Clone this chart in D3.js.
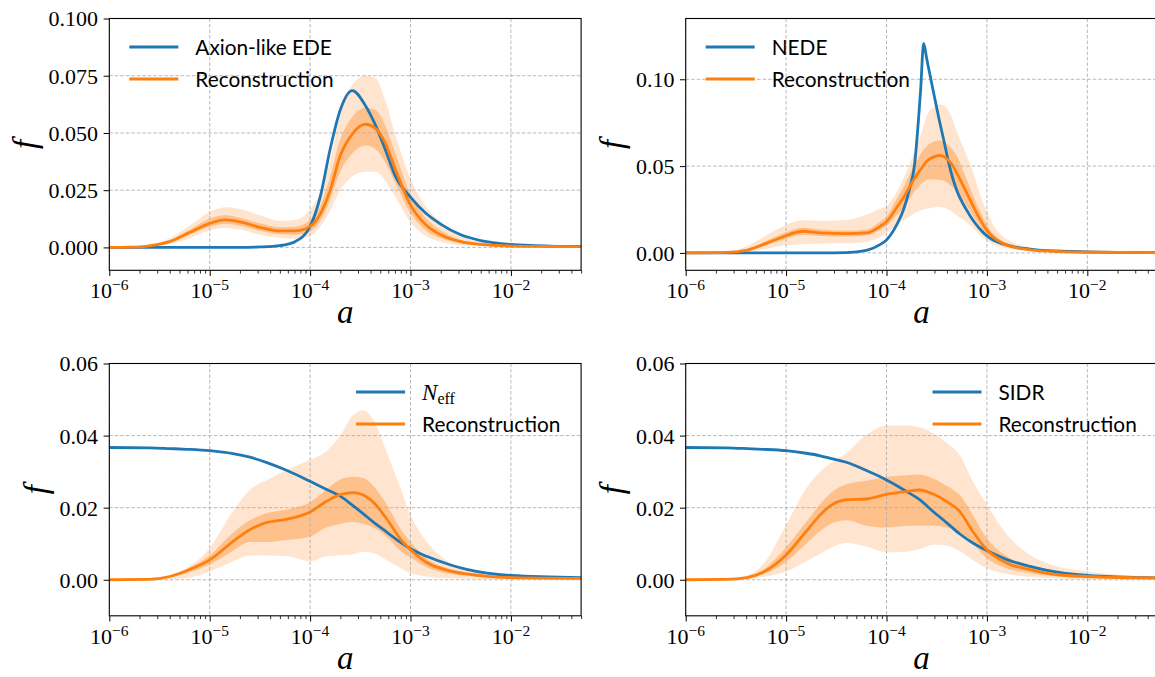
<!DOCTYPE html>
<html>
<head>
<meta charset="utf-8">
<script src="https://cdn.jsdelivr.net/npm/d3@7"></script>
<style>
  body { margin: 0; background: #fff; }
  svg { display: block; }
</style>
</head>
<body>
<div id="chart"></div>
<script>
// ---- data (log10 a grid per panel, then f values) ----

// Axion-like EDE
const edeLogA   = [-6, -5.8, -5.6, -5.4, -5.2, -5.0, -4.85, -4.7, -4.5, -4.3, -4.15, -4.0, -3.9, -3.8, -3.7, -3.58, -3.45, -3.35, -3.25, -3.15, -3.0, -2.85, -2.7, -2.5, -2.3, -2.0, -1.6, -1.3];
const edeModel  = [0, 0, 0, 0, 0, 0, 0, 0, 0.0002, 0.0008, 0.0025, 0.0092, 0.022, 0.043, 0.060, 0.0685, 0.062, 0.0535, 0.0426, 0.031, 0.022, 0.015, 0.0102, 0.0055, 0.003, 0.0013, 0.0006, 0.0004];
const edeMedian = [0, 0.0001, 0.0007, 0.0025, 0.0065, 0.0105, 0.012, 0.0112, 0.0088, 0.0072, 0.0072, 0.0092, 0.0145, 0.025, 0.040, 0.0495, 0.0538, 0.052, 0.0455, 0.034, 0.0185, 0.010, 0.0055, 0.0025, 0.0013, 0.0006, 0.0004, 0.0003];
const edeLo95   = [0, 0, 0.0003, 0.0015, 0.004, 0.0075, 0.0085, 0.0078, 0.0055, 0.0042, 0.0038, 0.005, 0.009, 0.016, 0.025, 0.031, 0.033, 0.033, 0.029, 0.022, 0.011, 0.005, 0.0025, 0.001, 0.0005, 0.0002, 0.0001, 0.0001];
const edeHi95   = [0, 0.0003, 0.0012, 0.004, 0.0095, 0.0155, 0.0175, 0.0168, 0.014, 0.0115, 0.012, 0.0165, 0.024, 0.038, 0.058, 0.071, 0.075, 0.074, 0.064, 0.049, 0.03, 0.018, 0.011, 0.005, 0.0025, 0.001, 0.0006, 0.0005];
const edeLo68   = [0, 0, 0.0005, 0.002, 0.0055, 0.009, 0.0103, 0.0095, 0.0073, 0.0058, 0.0056, 0.007, 0.0115, 0.021, 0.033, 0.041, 0.0445, 0.043, 0.037, 0.028, 0.015, 0.0075, 0.004, 0.0018, 0.0009, 0.0004, 0.0003, 0.0002];
const edeHi68   = [0, 0.0002, 0.0009, 0.003, 0.0077, 0.0125, 0.014, 0.013, 0.0105, 0.0088, 0.009, 0.012, 0.018, 0.031, 0.047, 0.057, 0.061, 0.060, 0.053, 0.041, 0.023, 0.013, 0.0075, 0.0033, 0.0017, 0.0008, 0.0005, 0.0004];

// NEDE
const nedeLogA   = [-6, -5.6, -5.4, -5.23, -5.06, -4.83, -4.66, -4.4, -4.2, -4.065, -4.0, -3.9, -3.83, -3.77, -3.72, -3.68, -3.66, -3.63, -3.6, -3.53, -3.475, -3.43, -3.385, -3.335, -3.3, -3.2, -3.135, -3.07, -3.0, -2.94, -2.84, -2.74, -2.57, -2.4, -2.0, -1.3];
const nedeModel  = [0, 0, 0, 0, 0, 0, 0, 0.0002, 0.0015, 0.0048, 0.0075, 0.016, 0.025, 0.037, 0.051, 0.078, 0.094, 0.1207, 0.112, 0.092, 0.0766, 0.065, 0.053, 0.042, 0.036, 0.0245, 0.0185, 0.0138, 0.0098, 0.0075, 0.0052, 0.0037, 0.0022, 0.0013, 0.0006, 0.0002];
const nedeMedian = [0, 0.0003, 0.0015, 0.0048, 0.0086, 0.0125, 0.0115, 0.0111, 0.0115, 0.0153, 0.018, 0.026, 0.032, 0.038, 0.043, 0.0465, 0.048, 0.0505, 0.0527, 0.0553, 0.0561, 0.0555, 0.0535, 0.0498, 0.046, 0.0345, 0.0268, 0.0195, 0.013, 0.0092, 0.0055, 0.0034, 0.0018, 0.001, 0.0004, 0.0002];
const nedeLo95   = [0, 0, 0.0005, 0.002, 0.004, 0.0052, 0.0055, 0.0057, 0.0065, 0.009, 0.0115, 0.016, 0.019, 0.021, 0.023, 0.024, 0.0245, 0.025, 0.0255, 0.0262, 0.0264, 0.026, 0.025, 0.023, 0.0215, 0.0175, 0.014, 0.0105, 0.0072, 0.005, 0.003, 0.002, 0.0011, 0.0006, 0.0002, 0.0001];
const nedeHi95   = [0, 0.0008, 0.0035, 0.009, 0.0145, 0.0188, 0.0185, 0.019, 0.022, 0.0255, 0.027, 0.035, 0.043, 0.051, 0.059, 0.065, 0.068, 0.073, 0.0785, 0.084, 0.0856, 0.085, 0.082, 0.076, 0.070, 0.056, 0.046, 0.034, 0.024, 0.0165, 0.0095, 0.006, 0.003, 0.0016, 0.0006, 0.0003];
const nedeLo68   = [0, 0.0002, 0.001, 0.0037, 0.007, 0.0105, 0.0098, 0.0095, 0.010, 0.0132, 0.0155, 0.0215, 0.026, 0.031, 0.0355, 0.038, 0.0395, 0.041, 0.042, 0.0425, 0.042, 0.0415, 0.040, 0.0375, 0.035, 0.027, 0.021, 0.0155, 0.0105, 0.0072, 0.0042, 0.0027, 0.0015, 0.0008, 0.0003, 0.0001];
const nedeHi68   = [0, 0.0005, 0.002, 0.006, 0.0105, 0.0145, 0.0135, 0.0128, 0.0135, 0.018, 0.021, 0.031, 0.038, 0.045, 0.051, 0.055, 0.057, 0.0595, 0.0615, 0.064, 0.0648, 0.064, 0.062, 0.059, 0.056, 0.042, 0.033, 0.024, 0.0162, 0.0112, 0.0068, 0.0044, 0.0025, 0.0014, 0.0005, 0.0002];

// N_eff
const neffLogA   = [-6, -5.6, -5.4, -5.23, -5.0, -4.77, -4.6, -4.43, -4.23, -4.0, -3.84, -3.7, -3.57, -3.47, -3.37, -3.24, -3.1, -3.0, -2.84, -2.6, -2.44, -2.0, -1.3];
const neffModel  = [0.0367, 0.0366, 0.0364, 0.0362, 0.0358, 0.035, 0.034, 0.0325, 0.0303, 0.0273, 0.0251, 0.0232, 0.0205, 0.0183, 0.016, 0.0133, 0.0104, 0.0086, 0.0065, 0.0041, 0.0029, 0.0012, 0.0006];
const neffMedian = [0, 0.0001, 0.0009, 0.0025, 0.0055, 0.0106, 0.0139, 0.0159, 0.0168, 0.0188, 0.0217, 0.0236, 0.0242, 0.0235, 0.0215, 0.017, 0.0113, 0.0083, 0.0048, 0.0024, 0.0016, 0.0006, 0.0004];
const neffLo95   = [0, 0, 0.0002, 0.0005, 0.0023, 0.0051, 0.0067, 0.0067, 0.0065, 0.0051, 0.0065, 0.0068, 0.0071, 0.0078, 0.0074, 0.0055, 0.0032, 0.0018, 0.0009, 0.0004, 0.0003, 0.0002, 0.0001];
const neffHi95   = [0, 0.0003, 0.0012, 0.0032, 0.0088, 0.019, 0.025, 0.0277, 0.0305, 0.0333, 0.0356, 0.040, 0.0457, 0.047, 0.0443, 0.0356, 0.0254, 0.018, 0.0106, 0.0046, 0.0028, 0.001, 0.0007];
const neffLo68   = [0, 0.0001, 0.0007, 0.0018, 0.0042, 0.008, 0.0105, 0.0105, 0.011, 0.012, 0.0145, 0.0155, 0.016, 0.0155, 0.0145, 0.012, 0.008, 0.0062, 0.0035, 0.0016, 0.0011, 0.0004, 0.0003];
const neffHi68   = [0, 0.0002, 0.001, 0.003, 0.0068, 0.013, 0.0165, 0.0185, 0.0195, 0.0215, 0.025, 0.0278, 0.0286, 0.0282, 0.026, 0.021, 0.0142, 0.0105, 0.006, 0.003, 0.002, 0.0008, 0.0005];

// SIDR
const sidrLogA   = [-6, -5.6, -5.39, -5.23, -5.0, -4.8, -4.66, -4.56, -4.4, -4.2, -4.0, -3.8, -3.67, -3.53, -3.4, -3.27, -3.14, -3.0, -2.8, -2.57, -2.4, -2.0, -1.3];
const sidrModel  = [0.0367, 0.0366, 0.0364, 0.0362, 0.0358, 0.0351, 0.0344, 0.0337, 0.0326, 0.0303, 0.0277, 0.0245, 0.0222, 0.0188, 0.0158, 0.0127, 0.0102, 0.0081, 0.0056, 0.0037, 0.0026, 0.0012, 0.0005];
const sidrMedian = [0, 0.0001, 0.0006, 0.0021, 0.0069, 0.0134, 0.018, 0.0205, 0.0222, 0.0224, 0.0237, 0.0245, 0.0249, 0.0237, 0.0217, 0.0189, 0.0134, 0.0083, 0.0046, 0.0028, 0.0018, 0.0009, 0.0005];
const sidrLo95   = [0, 0, 0.0002, 0.0008, 0.0023, 0.0051, 0.0072, 0.0088, 0.0102, 0.0092, 0.0076, 0.0078, 0.0085, 0.0097, 0.0095, 0.0079, 0.0055, 0.0032, 0.0016, 0.0008, 0.0005, 0.0002, 0.0001];
const sidrHi95   = [0, 0.0002, 0.0012, 0.0042, 0.0152, 0.0254, 0.030, 0.0323, 0.0351, 0.0402, 0.0428, 0.0428, 0.0423, 0.0406, 0.038, 0.0345, 0.0273, 0.0208, 0.0125, 0.0069, 0.0046, 0.0023, 0.0009];
const sidrLo68   = [0, 0.0001, 0.0004, 0.0015, 0.005, 0.010, 0.0135, 0.0155, 0.0165, 0.015, 0.0145, 0.015, 0.015, 0.015, 0.0145, 0.013, 0.010, 0.006, 0.0032, 0.0018, 0.0012, 0.0005, 0.0003];
const sidrHi68   = [0, 0.0001, 0.0009, 0.0028, 0.009, 0.016, 0.021, 0.024, 0.0265, 0.0275, 0.0285, 0.029, 0.0292, 0.028, 0.026, 0.0235, 0.018, 0.0115, 0.0065, 0.0038, 0.0026, 0.0012, 0.0006];

// axis settings
const xDomain = [1e-6, 5e-2];
const xMajor = [1e-6, 1e-5, 1e-4, 1e-3, 1e-2];
const xMajorExp = ["6", "5", "4", "3", "2"];
const yTicksEde = [0, 0.025, 0.05, 0.075, 0.1];
const yTicksNede = [0, 0.05, 0.1];
const yTicksRad = [0, 0.02, 0.04, 0.06];

const blue = "#1f77b4", orange = "#ff7f0e";
const serif = "'Liberation Serif', 'DejaVu Serif', serif";
const sans = "Lato, 'DejaVu Sans', sans-serif";

const W = 1155, H = 677;
const pw = 471.8;

const svg = d3.select("#chart").append("svg")
    .attr("width", W)
    .attr("height", H);

const panels = [
  {left: 109.3, top: 18.5, ph: 251.8, yDomain: [-0.01, 0.1], yTicks: yTicksEde, fmt: ".3f",
   label: "Axion-like EDE", legendRight: false,
   la: edeLogA, model: edeModel, med: edeMedian, lo95: edeLo95, hi95: edeHi95, lo68: edeLo68, hi68: edeHi68},
  {left: 685.7, top: 18.5, ph: 251.8, yDomain: [-0.01, 0.135], yTicks: yTicksNede, fmt: ".2f",
   label: "NEDE", legendRight: false,
   la: nedeLogA, model: nedeModel, med: nedeMedian, lo95: nedeLo95, hi95: nedeHi95, lo68: nedeLo68, hi68: nedeHi68},
  {left: 109.3, top: 363.5, ph: 252.3, yDomain: [-0.01, 0.06], yTicks: yTicksRad, fmt: ".2f",
   label: "Neff", legendRight: true,
   la: neffLogA, model: neffModel, med: neffMedian, lo95: neffLo95, hi95: neffHi95, lo68: neffLo68, hi68: neffHi68},
  {left: 685.7, top: 363.5, ph: 252.3, yDomain: [-0.01, 0.06], yTicks: yTicksRad, fmt: ".2f",
   label: "SIDR", legendRight: true,
   la: sidrLogA, model: sidrModel, med: sidrMedian, lo95: sidrLo95, hi95: sidrHi95, lo68: sidrLo68, hi68: sidrHi68}
];

panels.forEach((p, i) => {
  const ph = p.ph;
  const x = d3.scaleLog().domain(xDomain).range([0, pw]);
  const y = d3.scaleLinear().domain(p.yDomain).range([ph, 0]);

  const g = svg.append("g").attr("transform", `translate(${p.left},${p.top})`);

  g.append("clipPath").attr("id", "clip" + i)
    .append("rect").attr("width", pw).attr("height", ph);

  const rows = p.la.map((l, j) => ({
    a: Math.pow(10, l), model: p.model[j], med: p.med[j],
    lo95: p.lo95[j], hi95: p.hi95[j], lo68: p.lo68[j], hi68: p.hi68[j]
  }));

  const plot = g.append("g").attr("clip-path", `url(#clip${i})`);

  const band = (lo, hi) => d3.area()
      .x(d => x(d.a)).y0(d => y(d[lo])).y1(d => y(d[hi]))
      .curve(d3.curveMonotoneX);
  const line = key => d3.line()
      .x(d => x(d.a)).y(d => y(d[key]))
      .curve(d3.curveMonotoneX);

  plot.append("path").datum(rows)
      .attr("d", band("lo95", "hi95"))
      .attr("fill", orange).attr("fill-opacity", 0.2);
  plot.append("path").datum(rows)
      .attr("d", band("lo68", "hi68"))
      .attr("fill", orange).attr("fill-opacity", 0.35);

  // grid
  const grid = plot.append("g")
      .attr("stroke", "#b0b0b0")
      .attr("stroke-width", 0.9)
      .attr("stroke-dasharray", "3.5,2");
  grid.selectAll(".gx").data(xMajor).join("line")
      .attr("x1", d => x(d)).attr("x2", d => x(d))
      .attr("y1", 0).attr("y2", ph);
  grid.selectAll(".gy").data(p.yTicks).join("line")
      .attr("x1", 0).attr("x2", pw)
      .attr("y1", d => y(d)).attr("y2", d => y(d));

  plot.append("path").datum(rows)
      .attr("d", line("model"))
      .attr("fill", "none").attr("stroke", blue).attr("stroke-width", 2.8);
  plot.append("path").datum(rows)
      .attr("d", line("med"))
      .attr("fill", "none").attr("stroke", orange).attr("stroke-width", 2.8);

  // y axis
  const yAxis = g.append("g")
      .call(d3.axisLeft(y).tickValues(p.yTicks).tickFormat(d3.format(p.fmt))
        .tickSize(5.7).tickPadding(5.5));
  yAxis.attr("font-family", serif);
  yAxis.select(".domain").remove();
  yAxis.selectAll(".tick line").attr("stroke", "#000").attr("stroke-width", 1);
  yAxis.selectAll(".tick text")
      .attr("font-family", serif).attr("font-size", 22).attr("fill", "#000")
      .attr("dy", "0.34em");

  // x axis: major + minor ticks
  const xAxis = g.append("g").attr("transform", `translate(0,${ph})`)
      .call(d3.axisBottom(x).tickValues(xMajor).tickFormat("").tickSize(5.7));
  xAxis.select(".domain").remove();
  xAxis.selectAll(".tick line").attr("stroke", "#000").attr("stroke-width", 1);

  const minor = x.ticks().filter(v => !xMajor.some(m => Math.abs(v / m - 1) < 1e-6));
  const xMinor = g.append("g").attr("transform", `translate(0,${ph})`)
      .call(d3.axisBottom(x).tickValues(minor).tickFormat("").tickSize(3.3));
  xMinor.select(".domain").remove();
  xMinor.selectAll(".tick line").attr("stroke", "#000").attr("stroke-width", 0.8);

  const xl = g.append("g").selectAll("text").data(xMajor).join("text")
      .attr("x", d => x(d)).attr("y", ph + 28)
      .attr("text-anchor", "middle")
      .attr("font-family", serif).attr("font-size", 22);
  xl.append("tspan").text("10");
  xl.append("tspan").attr("font-size", 15.5).attr("dy", -8)
      .text((d, k) => "\u2212" + xMajorExp[k]);

  // frame
  g.append("rect").attr("width", pw).attr("height", ph)
      .attr("fill", "none").attr("stroke", "#000").attr("stroke-width", 1.1);

  // axis labels
  g.append("text")
      .attr("x", pw / 2).attr("y", ph + 53)
      .attr("text-anchor", "middle")
      .attr("font-family", serif).attr("font-style", "italic").attr("font-size", 33)
      .text("a");

  const bb = yAxis.node().getBBox();
  g.append("text")
      .attr("transform", `translate(${bb.x - 13},${ph / 2}) rotate(-90)`)
      .attr("text-anchor", "middle")
      .attr("font-family", serif).attr("font-style", "italic").attr("font-size", 33)
      .text("f");

  // legend
  const tx = p.legendRight ? pw - 159 : 86;
  const leg = g.append("g");
  [[p.label, blue, 28.5], ["Reconstruction", orange, 60.5]].forEach(([name, col, ly]) => {
    leg.append("line")
        .attr("x1", tx - 66).attr("x2", tx - 17)
        .attr("y1", ly).attr("y2", ly)
        .attr("stroke", col).attr("stroke-width", 2.8);
    const t = leg.append("text")
        .attr("x", tx).attr("y", ly + 8)
        .attr("font-family", sans).attr("font-size", 20.8).attr("fill", "#000");
    if (name === "Neff") {
      t.append("tspan").attr("font-family", serif).attr("font-style", "italic")
          .attr("font-size", 23).text("N");
      t.append("tspan").attr("font-family", serif).attr("font-size", 16)
          .attr("dy", 4).text("eff");
    } else {
      t.text(name);
    }
  });
});
</script>
</body>
</html>
